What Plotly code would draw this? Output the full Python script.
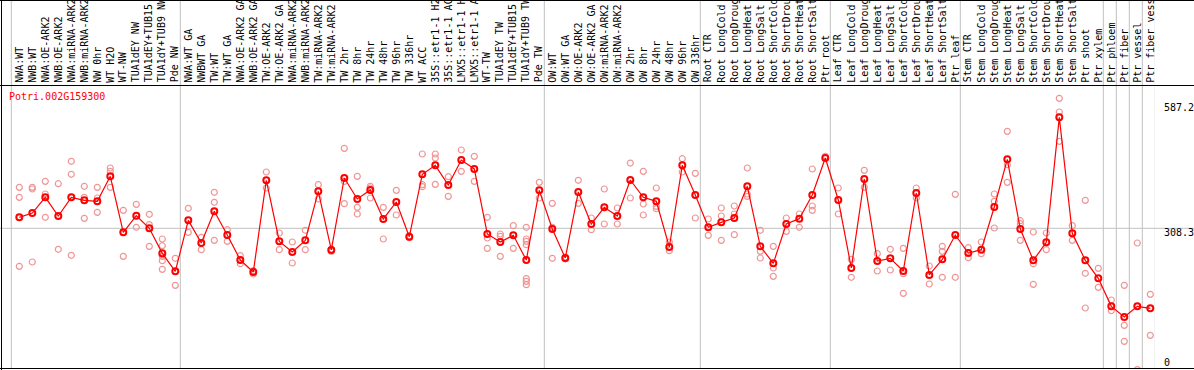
import plotly.graph_objects as go

categories = [
    "NWA:WT", "NWB:WT", "NWA:OE-ARK2", "NWB:OE-ARK2", "NWA:miRNA-ARK2", "NWB:miRNA-ARK2",
    "NW 0hr", "WT H2O", "WT-NW", "TUA1dEY NW", "TUA1dEY+TUB15 NW", "TUA1dY+TUB9 NW", "Pde NW",
    "NWA:WT GA", "NWBWT GA", "TW:WT", "TW:WT GA", "NWA:OE-ARK2 GA", "NWB:OE-ARK2 GA",
    "TW:OE-ARK2", "TW:OE-ARK2 GA", "NWA:miRNA-ARK2 GA", "NWB:miRNA-ARK2 GA", "TW:miRNA-ARK2",
    "TW:miRNA-ARK2 GA", "TW 2hr", "TW 8hr", "TW 24hr", "TW 48hr", "TW 96hr", "TW 336hr",
    "WT ACC", "35S::etr1-1 H2O", "35S::etr1-1 ACC", "LMX5::etr1-1 H2O", "LMX5::etr1-1 ACC",
    "WT-TW", "TUA1dEY TW", "TUA1dEY+TUB15 TW", "TUA1dY+TUB9 TW", "Pde TW",
    "OW:WT", "OW:WT GA", "OW:OE-ARK2", "OW:OE-ARK2 GA", "OW:miRNA-ARK2", "OW:miRNA-ARK2 GA",
    "OW 2hr", "OW 8hr", "OW 24hr", "OW 48hr", "OW 96hr", "OW 336hr",
    "Root CTR", "Root LongCold", "Root LongDrought", "Root LongHeat", "Root LongSalt",
    "Root ShortCold", "Root ShortDrought", "Root ShortHeat", "Root ShortSalt", "Ptr root",
    "Leaf CTR", "Leaf LongCold", "Leaf LongDrought", "Leaf LongHeat", "Leaf LongSalt",
    "Leaf ShortCold", "Leaf ShortDrought", "Leaf ShortHeat", "Leaf ShortSalt", "Ptr leaf",
    "Stem CTR", "Stem LongCold", "Stem LongDrought", "Stem LongHeat", "Stem LongSalt",
    "Stem ShortCold", "Stem ShortDrought", "Stem ShortHeat", "Stem ShortSalt", "Ptr shoot",
    "Ptr xylem", "Ptr phloem", "Ptr fiber", "Ptr vessel", "Ptr fiber vessel",
]

means = [
    332.8, 342.4, 377.4, 335.8, 377.4, 370.7, 368.5, 424.3, 299.3, 336.5,
    308.2, 252.4, 212.2, 326.1, 275.5, 346.2, 293.3, 237.5, 210.8, 415.4,
    279.2, 255.4, 281.4, 390.8, 259.9, 420.6, 373.7, 393.8, 329.1, 367.0,
    289.6, 428.8, 448.8, 404.9, 460.7, 440.7, 295.6, 277.7, 292.6, 237.5,
    393.0, 306.7, 242.0, 389.3, 317.9, 355.1, 335.8, 416.1, 377.4, 368.5,
    266.6, 448.8, 382.6, 310.5, 321.6, 331.3, 402.0, 268.0, 230.1, 317.9,
    329.8, 382.6, 465.2, 371.5, 219.7, 418.3, 235.3, 241.3, 213.0, 387.1,
    204.1, 239.0, 293.3, 253.2, 260.6, 355.8, 462.2, 306.7, 236.8, 277.0,
    556.0, 297.1, 236.8, 196.6, 134.1, 110.3, 134.1, 129.7,
]

replicates = [
    [399.7, 377.4, 223.4], [399.7, 396.0, 233.1], [413.1, 384.9, 332.8], [407.9, 261.4],
    [457.8, 428.8, 248.0], [402.0, 377.4, 330.5], [399.7, 375.9, 343.9], [442.9, 435.4, 399.7],
    [348.4, 245.7], [361.8, 310.5], [339.5, 316.4, 268.0], [284.4, 269.5, 245.7, 236.1, 216.7],
    [241.3, 181.0], [352.9, 299.3], [288.1, 260.6], [388.6, 366.3, 281.4],
    [305.2, 279.2], [247.2, 229.4], [206.3, 213.7], [434.0, 398.3],
    [297.8, 260.6], [277.7, 230.8], [303.8, 260.6], [405.7, 373.7],
    [262.1, 256.9], [486.8, 413.1, 363.3], [424.3, 355.1, 340.2], [402.0, 398.3, 375.9],
    [355.1, 284.4], [393.0, 338.0], [291.8, 287.4], [474.1, 405.7, 401.2],
    [474.1, 465.2, 406.4], [423.5, 379.6], [483.1, 435.4], [468.9, 413.1],
    [332.8, 286.6, 263.6], [295.6, 290.4, 245.7], [314.2, 263.6],
    [310.5, 284.4, 279.2, 271.8, 195.9, 189.9, 182.5],
    [410.9, 375.9], [364.0, 310.5, 241.3], [244.2, 239.8], [415.4, 364.0],
    [331.3, 305.2], [396.0, 317.9], [353.6, 317.9], [454.0, 375.9],
    [435.4, 362.5, 338.0], [398.3, 357.3, 352.1], [277.7, 258.4], [463.7, 434.0],
    [431.0, 331.3], [329.1, 292.6], [353.6, 335.8, 281.4], [358.1, 340.2, 294.1],
    [442.9, 384.9, 379.6], [303.8, 256.9, 242.0], [268.0, 219.7, 201.1], [331.3, 301.5],
    [340.2, 310.5], [440.7, 358.1, 348.4], [468.9], [398.3, 340.2],
    [239.0, 198.9], [437.7, 399.7], [251.7, 213.0], [261.4, 215.2],
    [263.6, 207.0, 163.1], [398.3, 375.9], [224.2, 184.0], [268.0, 256.9, 198.9],
    [384.1, 198.9], [265.1, 242.8], [277.7, 251.7], [384.9, 368.5, 309.0],
    [524.7, 450.3, 410.9], [325.3, 318.6, 281.4], [300.0, 229.4, 183.2], [297.8, 260.6],
    [598.4, 567.9, 502.4], [314.2, 281.4], [370.7, 207.8, 130.4], [218.9, 176.5],
    [148.3, 124.5], [181.0, 91.7, 56.0], [275.5, -7.0], [160.9, 69.4],
]

group_starts = [0, 13, 41, 53, 63, 73, 84, 85, 86, 87, 88]
tick_values = [587.2, 308.3]
tick_labels = ["587.2", "308.3"]
gene_id = "Potri.002G159300"

# ---- geometry ----
W, H = 1194, 370
ML, MR, MT, MB = 2, 39, 86, 1
PW, PH = W - ML - MR, H - MT - MB
STEP = 13.0
X0PIX = 19.3  # pixel of first category
xr = [(ML - X0PIX) / STEP, (W - MR - X0PIX) / STEP]
yr = [-5.76, 625.93]


def px_to_paper_x(px):
    return (px - ML) / PW


def px_to_paper_y(py):
    return (H - MB - py) / PH


mono = "DejaVu Sans Mono"
fig = go.Figure()

rx, ry = [], []
for i, reps in enumerate(replicates):
    for v in reps:
        rx.append(i)
        ry.append(v)

fig.add_trace(go.Scatter(
    x=rx, y=ry, mode="markers",
    marker=dict(symbol="circle-open", size=6, color="#F09696", line=dict(width=1.2)),
    hoverinfo="skip", showlegend=False,
))
fig.add_trace(go.Scatter(
    x=list(range(len(means))), y=means, mode="lines+markers",
    line=dict(color="#FF0000", width=1.2),
    marker=dict(symbol="circle-open", size=6, color="#FF0000", line=dict(width=2)),
    text=categories, showlegend=False,
))

shapes = []
gray = "#C0C0C0"
for g in group_starts:
    xs = g - 8.0 / STEP
    shapes.append(dict(type="line", xref="x", yref="paper", x0=xs, x1=xs,
                       y0=0, y1=px_to_paper_y(0), line=dict(color=gray, width=1), layer="below"))
shapes.append(dict(type="line", xref="paper", yref="y", x0=px_to_paper_x(0), x1=px_to_paper_x(W),
                   y0=tick_values[1], y1=tick_values[1], line=dict(color=gray, width=1), layer="below"))
for py in [0.5, 85.5, 368.5]:
    shapes.append(dict(type="line", xref="paper", yref="paper", x0=px_to_paper_x(0), x1=px_to_paper_x(W),
                       y0=px_to_paper_y(py), y1=px_to_paper_y(py), line=dict(color="black", width=1)))
shapes.append(dict(type="line", xref="paper", yref="paper", x0=px_to_paper_x(1.5), x1=px_to_paper_x(1.5),
                   y0=px_to_paper_y(H), y1=px_to_paper_y(0), line=dict(color="black", width=1)))

annotations = []
for i, c in enumerate(categories):
    annotations.append(dict(x=i, xref="x", y=px_to_paper_y(84.5), yref="paper", text=c,
                            textangle=-90, showarrow=False, xanchor="center", yanchor="bottom",
                            font=dict(family=mono, size=10, color="black")))
for v, t in zip(tick_values, tick_labels):
    annotations.append(dict(x=px_to_paper_x(1162), xref="paper", y=v, yref="y", text=t,
                            showarrow=False, xanchor="left", yanchor="middle", yshift=-3.8,
                            font=dict(family=mono, size=10, color="black")))
annotations.append(dict(x=px_to_paper_x(1162), xref="paper", y=px_to_paper_y(362), yref="paper",
                        text="0", showarrow=False, xanchor="left", yanchor="middle",
                        font=dict(family=mono, size=10, color="black")))
annotations.append(dict(x=px_to_paper_x(7.3), xref="paper", y=px_to_paper_y(96.3), yref="paper",
                        text=gene_id, showarrow=False, xanchor="left", yanchor="middle",
                        font=dict(family=mono, size=10, color="#FF0000")))

fig.update_layout(
    width=W, height=H, margin=dict(l=ML, r=MR, t=MT, b=MB, pad=0),
    paper_bgcolor="white", plot_bgcolor="white",
    xaxis=dict(range=xr, showgrid=False, zeroline=False, showticklabels=False, ticks="", fixedrange=True),
    yaxis=dict(range=yr, showgrid=False, zeroline=False, showticklabels=False, ticks="", fixedrange=True),
    shapes=shapes, annotations=annotations, showlegend=False,
)

fig.write_html(
    "out.html",
    config={"displayModeBar": False},
    post_script="document.body.style.margin='0';document.body.style.overflow='hidden';",
)
